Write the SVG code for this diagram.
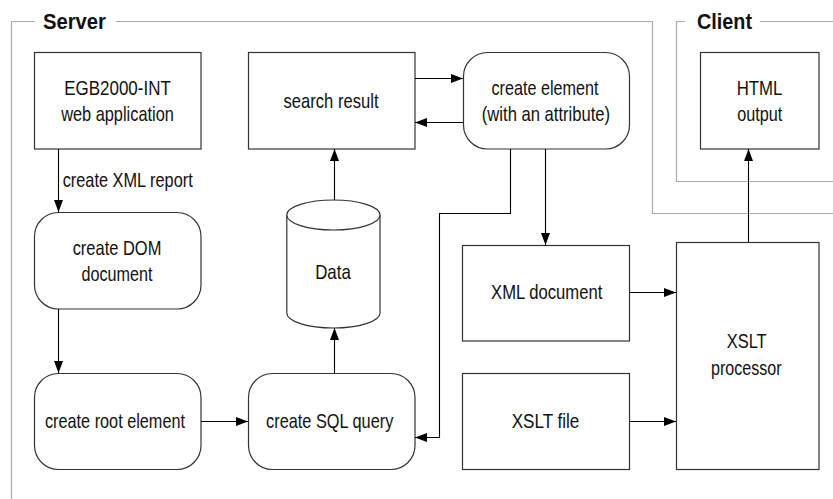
<svg xmlns="http://www.w3.org/2000/svg" width="833" height="499" viewBox="0 0 833 499">
<defs>
<marker id="ah" markerWidth="12" markerHeight="9" refX="12" refY="4.5" orient="auto" markerUnits="userSpaceOnUse">
<path d="M0,0 L12,4.5 L0,9 Z" fill="#000"/>
</marker>
<style>
.box{fill:#fff;stroke:#333;stroke-width:1.2}
.frame{fill:none;stroke:#aaa;stroke-width:1.2}
.t{font-family:"Liberation Sans",Arial,sans-serif;font-size:21px;fill:#111;text-anchor:middle}
.h{font-family:"Liberation Sans",Arial,sans-serif;font-size:22px;font-weight:bold;fill:#111}
.c{fill:none;stroke:#000;stroke-width:1.1;marker-end:url(#ah)}
</style>
</defs>
<rect width="833" height="499" fill="#fff"/>
<g id="frames">
<path class="frame" d="M11.5,499 V21.5 H35 M116,21.5 H652.5 V213.5 H833"/>
<text class="h" x="43" y="29" textLength="63" lengthAdjust="spacingAndGlyphs">Server</text>
<path class="frame" d="M685,21.5 H676.5 V181.5 H833 M760,21.5 H833"/>
<text class="h" x="697" y="29" textLength="55" lengthAdjust="spacingAndGlyphs">Client</text>
</g>
<g id="egb">
<rect class="box" x="34.5" y="52.5" width="166.5" height="96.5"/>
<text class="t" x="117.5" y="95" textLength="106.7" lengthAdjust="spacingAndGlyphs">EGB2000-INT</text>
<text class="t" x="117.5" y="121" textLength="112.7" lengthAdjust="spacingAndGlyphs">web application</text>
</g>
<g id="dom">
<rect class="box" x="34.5" y="212.5" width="166.5" height="96.5" rx="24"/>
<text class="t" x="117" y="255" textLength="88.7" lengthAdjust="spacingAndGlyphs">create DOM</text>
<text class="t" x="117" y="281" textLength="71" lengthAdjust="spacingAndGlyphs">document</text>
</g>
<g id="root">
<rect class="box" x="34.5" y="373.5" width="166.5" height="96" rx="24"/>
<text class="t" x="115" y="428.3" textLength="140" lengthAdjust="spacingAndGlyphs">create root element</text>
</g>
<g id="search">
<rect class="box" x="248.5" y="52.5" width="166.5" height="96.5"/>
<text class="t" x="331" y="108.3" textLength="95" lengthAdjust="spacingAndGlyphs">search result</text>
</g>
<g id="data">
<path class="box" d="M286.8,215 V313 A46.6,15 0 0 0 380,313 V215"/>
<ellipse class="box" cx="333.4" cy="215" rx="46.6" ry="15"/>
<text class="t" x="333" y="279.3" textLength="35.7" lengthAdjust="spacingAndGlyphs">Data</text>
</g>
<g id="sql">
<rect class="box" x="248.5" y="373.5" width="166.5" height="96" rx="24"/>
<text class="t" x="329.7" y="428.3" textLength="127.3" lengthAdjust="spacingAndGlyphs">create SQL query</text>
</g>
<g id="element">
<rect class="box" x="463.5" y="52.5" width="166" height="96.5" rx="24"/>
<text class="t" x="545" y="95" textLength="107" lengthAdjust="spacingAndGlyphs">create element</text>
<text class="t" x="546" y="120.7" textLength="128.3" lengthAdjust="spacingAndGlyphs">(with an attribute)</text>
</g>
<g id="xmldoc">
<rect class="box" x="462.5" y="245.5" width="167" height="95.5"/>
<text class="t" x="546.7" y="299.3" textLength="111.3" lengthAdjust="spacingAndGlyphs">XML document</text>
</g>
<g id="xsltfile">
<rect class="box" x="462.5" y="373.5" width="167" height="96"/>
<text class="t" x="545.5" y="428.3" textLength="67.7" lengthAdjust="spacingAndGlyphs">XSLT file</text>
</g>
<g id="processor">
<rect class="box" x="676.5" y="242.5" width="142.5" height="227"/>
<text class="t" x="746.7" y="348.3" textLength="40" lengthAdjust="spacingAndGlyphs">XSLT</text>
<text class="t" x="746.3" y="374.5" textLength="70.7" lengthAdjust="spacingAndGlyphs">processor</text>
</g>
<g id="html">
<rect class="box" x="700.5" y="52.5" width="118.5" height="96.5"/>
<text class="t" x="759.5" y="95" textLength="45.7" lengthAdjust="spacingAndGlyphs">HTML</text>
<text class="t" x="759.8" y="120.7" textLength="45" lengthAdjust="spacingAndGlyphs">output</text>
</g>
<g id="connectors">
<path class="c" d="M58.5,149 V212"/>
<text class="t" x="127.7" y="186.7" textLength="130" lengthAdjust="spacingAndGlyphs">create XML report</text>
<path class="c" d="M58.5,309 V373"/>
<path class="c" d="M201,421.5 H248"/>
<path class="c" d="M334.5,373 V328"/>
<path class="c" d="M334.5,200 V149"/>
<path class="c" d="M415,78.5 H463"/>
<path class="c" d="M463,122.5 H415"/>
<path class="c" d="M545.5,149 V245"/>
<path class="c" d="M510.5,149 V213.5 H439.5 V437.5 H415"/>
<path class="c" d="M629.5,292.5 H676"/>
<path class="c" d="M629.5,421.5 H676"/>
<path class="c" d="M748.5,242 V149"/>
</g>
</svg>
